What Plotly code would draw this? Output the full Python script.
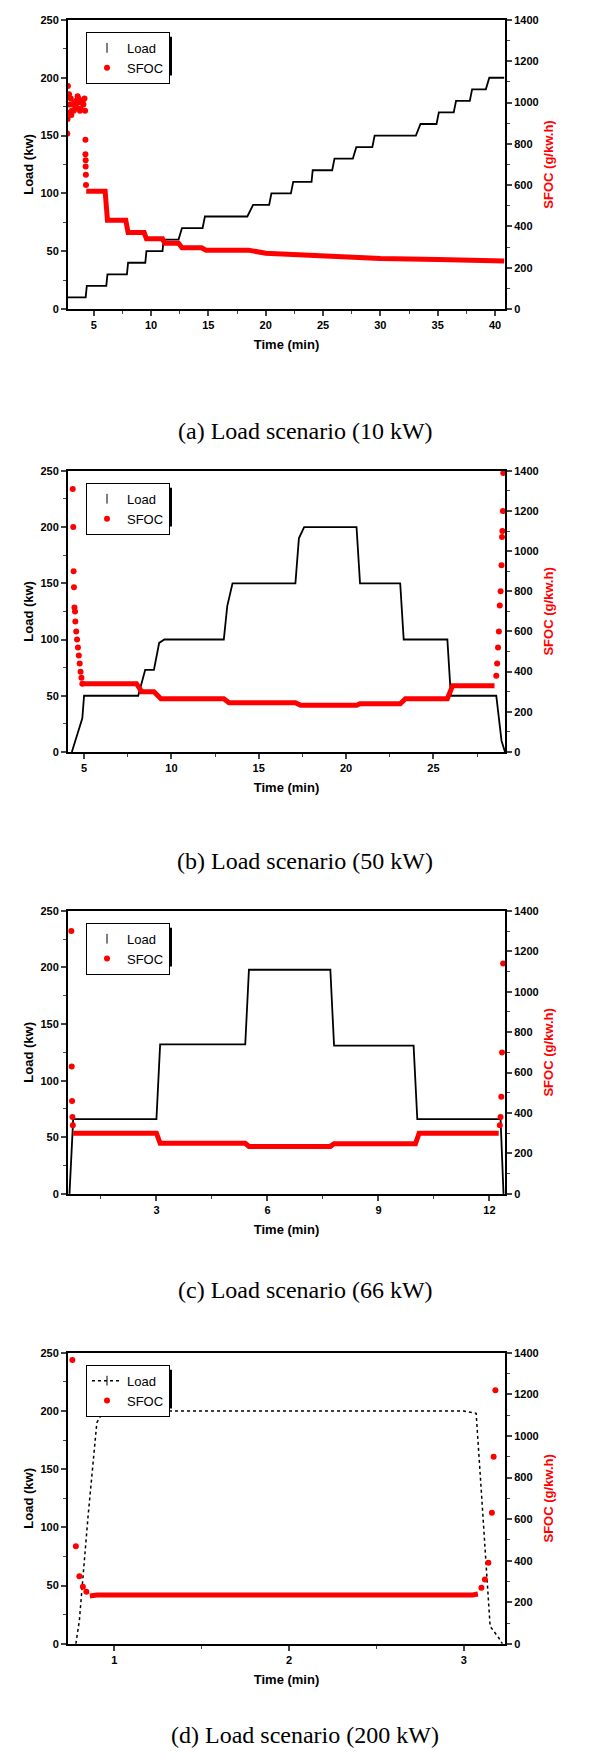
import plotly.graph_objects as go

W, H = 594, 1762

# ---------- Data ----------
# (a) 10 kW steps
a_load_t = [2.7, 4.3, 4.4, 6.1, 6.2, 7.9, 8.0, 9.5, 9.6, 11.0, 11.1, 12.4, 12.7, 14.5, 14.7, 18.4, 18.9, 20.3, 20.5, 22.2, 22.4, 24.0, 24.1, 25.8, 26.0, 27.6, 27.9, 29.3, 29.5, 33.1, 33.5, 34.9, 35.1, 36.4, 36.6, 37.8, 38.0, 39.2, 39.5, 40.8]
a_load_v = [10, 10, 20, 20, 30, 30, 40, 40, 50, 50, 60, 60, 70, 70, 80, 80, 90, 90, 100, 100, 110, 110, 120, 120, 130, 130, 140, 140, 150, 150, 160, 160, 170, 170, 180, 180, 190, 190, 200, 200]
a_sfoc_t = [4.35, 6.0, 6.2, 7.8, 8.0, 9.4, 9.6, 11.0, 11.2, 12.4, 12.7, 14.4, 14.8, 18.5, 20, 25, 30, 35, 40.8]
a_sfoc_v = [570, 570, 430, 430, 370, 370, 340, 340, 318, 318, 296, 296, 285, 285, 270, 255, 245, 240, 232]
a_pts_t = [2.7, 2.75, 2.8, 2.9, 3.0, 3.1, 3.2, 3.3, 3.4, 3.5, 3.6, 3.7, 3.8, 3.9, 4.0, 4.1, 4.2, 2.72, 2.85, 3.05, 3.25, 3.45, 3.65, 3.85, 4.05, 4.25, 4.28, 4.28, 4.3, 4.3, 4.32, 4.33]
a_pts_v = [850, 1080, 950, 990, 1020, 960, 990, 1000, 970, 1010, 1030, 1000, 960, 1010, 1000, 990, 1020, 920, 1040, 940, 960, 980, 1020, 970, 1010, 960, 820, 750, 720, 690, 650, 600]

# (b) 50 kW
b_load_t = [4.3, 4.6, 4.9, 5.0, 8.1, 8.5, 9.0, 9.3, 9.6, 13.0, 13.2, 13.5, 17.1, 17.3, 17.6, 20.6, 20.8, 23.1, 23.3, 25.8, 26.0, 28.6, 28.9, 29.1]
b_load_v = [0, 15, 30, 50, 50, 73, 73, 97, 100, 100, 130, 150, 150, 190, 200, 200, 150, 150, 100, 100, 50, 50, 10, 0]
b_sfoc_t = [4.95, 8.0, 8.3, 9.0, 9.4, 13.0, 13.3, 17.1, 17.4, 20.6, 20.8, 23.1, 23.4, 25.8, 26.1, 28.5]
b_sfoc_v = [340, 340, 300, 300, 265, 265, 245, 245, 232, 232, 240, 240, 265, 265, 330, 330]
b_pts_t = [4.35, 4.38, 4.4, 4.42, 4.45, 4.48, 4.5, 4.55, 4.6, 4.65, 4.7, 4.75, 4.8, 4.85, 4.9, 28.6, 28.65, 28.7, 28.75, 28.8, 28.85, 28.9, 28.93, 28.95, 28.98, 29.0]
b_pts_v = [1310, 1120, 900, 820, 720, 700, 650, 600, 560, 520, 480, 440, 400, 370, 340, 380, 440, 520, 600, 730, 800, 930, 1070, 1100, 1200, 1390]

# (c) 66 kW
c_load_t = [0.65, 0.75, 3.0, 3.1, 5.4, 5.5, 7.7, 7.8, 9.95, 10.05, 12.3, 12.38]
c_load_v = [0, 66, 66, 132, 132, 198, 198, 131, 131, 66, 66, 0]
c_sfoc_t = [0.75, 3.0, 3.1, 5.4, 5.5, 7.7, 7.8, 10.0, 10.1, 12.25]
c_sfoc_v = [300, 300, 250, 250, 235, 235, 248, 248, 300, 300]
c_pts_t = [0.7, 0.71, 0.72, 0.73, 0.74, 12.28, 12.3, 12.32, 12.34, 12.37]
c_pts_v = [1300, 630, 460, 380, 340, 340, 380, 480, 700, 1140]

# (d) 200 kW
d_load_t = [0.78, 0.8, 0.85, 0.9, 0.93, 1.0, 3.0, 3.07, 3.1, 3.15, 3.2, 3.22]
d_load_v = [0, 20, 110, 190, 198, 200, 200, 198, 130, 15, 5, 0]
d_sfoc_t = [0.86, 0.9, 3.05, 3.08]
d_sfoc_v = [230, 235, 235, 240]
d_pts_t = [0.76, 0.78, 0.8, 0.82, 0.84, 3.1, 3.12, 3.14, 3.16, 3.17, 3.18]
d_pts_v = [1365, 470, 325, 275, 250, 270, 310, 390, 630, 900, 1220]

panels = [
    dict(lt=a_load_t, lv=a_load_v, st=a_sfoc_t, sv=a_sfoc_v, pt=a_pts_t, pv=a_pts_v,
         xr=[2.76, 40.87], dt=5, t0=5, top=6, bot=297, cap="(a) Load scenario (10 kW)", capy=405, dash="solid"),
    dict(lt=b_load_t, lv=b_load_v, st=b_sfoc_t, sv=b_sfoc_v, pt=b_pts_t, pv=b_pts_v,
         xr=[4.08, 29.1], dt=5, t0=5, top=460, bot=743, cap="(b) Load scenario (50 kW)", capy=853, dash="solid"),
    dict(lt=c_load_t, lv=c_load_v, st=c_sfoc_t, sv=c_sfoc_v, pt=c_pts_t, pv=c_pts_v,
         xr=[0.61, 12.42], dt=3, t0=3, top=903, bot=1188, cap="(c) Load scenario (66 kW)", capy=1300, dash="solid"),
    dict(lt=d_load_t, lv=d_load_v, st=d_sfoc_t, sv=d_sfoc_v, pt=d_pts_t, pv=d_pts_v,
         xr=[0.735, 3.235], dt=1, t0=1, top=1348, bot=1641, cap="(d) Load scenario (200 kW)", capy=1748, dash="dot"),
]

L, R = 60, 497
fig = go.Figure()
tickfont = dict(family="Liberation Sans", size=11, color="black")
shapes, annotations = [], []

for i, p in enumerate(panels):
    n = i + 1
    xa = "x" if n == 1 else f"x{n}"
    ya = f"y{2*n-1}" if n > 1 else "y"
    ya2 = f"y{2*n}"
    leg = "legend" if n == 1 else f"legend{n}"
    d0, d1 = 1 - p["bot"] / H, 1 - p["top"] / H
    fig.add_trace(go.Scatter(x=p["st"], y=p["sv"], mode="lines", line=dict(color="red", width=5),
                             xaxis=xa, yaxis=ya2, showlegend=False, hoverinfo="skip"))
    fig.add_trace(go.Scatter(x=p["pt"], y=p["pv"], mode="markers", marker=dict(color="red", size=6),
                             xaxis=xa, yaxis=ya2, showlegend=False))
    fig.add_trace(go.Scatter(x=p["lt"], y=p["lv"], mode="lines",
                             line=dict(color="black", width=1.8 if p["dash"] == "solid" else 1.5, dash=p["dash"]),
                             xaxis=xa, yaxis=ya, showlegend=False))
    fig.add_trace(go.Scatter(x=[None], y=[None], name="Load", xaxis=xa, yaxis=ya, legend=leg,
                             mode="markers" if p["dash"] == "solid" else "lines+markers",
                             line=dict(color="black", width=1.5, dash="dot"),
                             marker=dict(symbol="line-ns-open", size=7, color="black", line=dict(width=1, color="black"))))
    fig.add_trace(go.Scatter(x=[None], y=[None], name="SFOC", xaxis=xa, yaxis=ya2, legend=leg,
                             mode="markers", marker=dict(color="red", size=6)))
    common = dict(showline=True, linecolor="black", linewidth=2, ticks="outside", ticklen=5, tickwidth=2,
                  tickfont=tickfont, showgrid=False, zeroline=False, tickprefix="<b>", ticksuffix="</b>")
    fig.layout[f"xaxis{n if n>1 else ''}"] = dict(
        domain=[L / W, R / W], range=p["xr"], anchor=ya, mirror=True, tick0=p["t0"], dtick=p["dt"],
        title=dict(text="<b>Time (min)</b>", font=dict(family="Liberation Sans", size=13, color="black"), standoff=10),
        minor=dict(ticks="outside", ticklen=3, tickwidth=1, dtick=p["dt"] / 2), **common)
    fig.layout[f"yaxis{2*n-1 if n>1 else ''}"] = dict(
        domain=[d0, d1], range=[0, 250], dtick=50, anchor=xa,
        title=dict(text="<b>Load (kw)</b>", font=dict(family="Liberation Sans", size=13, color="black"), standoff=4),
        minor=dict(ticks="outside", ticklen=3, tickwidth=1, dtick=25), **common)
    fig.layout[f"yaxis{2*n}"] = dict(
        domain=[d0, d1], range=[0, 1400], dtick=200, anchor=xa, overlaying=ya, side="right",
        title=dict(text="<b>SFOC (g/kw.h)</b>", font=dict(family="Liberation Sans", size=13, color="red"), standoff=6),
        minor=dict(ticks="outside", ticklen=3, tickwidth=1, dtick=100), **common)
    lx0, ly0 = 78, p["top"] + 12
    fig.layout[leg] = dict(x=lx0 / W, y=1 - ly0 / H, xanchor="left", yanchor="top", bgcolor="white",
                           bordercolor="black", borderwidth=1, font=dict(family="Liberation Sans", size=13, color="black"),
                           tracegroupgap=0, itemwidth=30)
    shapes.append(dict(type="rect", xref="paper", yref="paper", x0=(lx0 + 5) / W, x1=(lx0 + 86) / W,
                       y0=1 - (ly0 + 44) / H, y1=1 - (ly0 + 5) / H, fillcolor="black", line=dict(width=0), layer="below"))
    annotations.append(dict(text=p["cap"], x=0.5, y=1 - p["capy"] / H, xref="paper", yref="paper",
                            showarrow=False, font=dict(family="Liberation Serif", size=24, color="black")))

fig.update_layout(width=W, height=H, margin=dict(l=0, r=0, t=0, b=0), paper_bgcolor="white",
                  plot_bgcolor="rgba(0,0,0,0)", shapes=shapes, annotations=annotations)
fig.write_html("out.html")
